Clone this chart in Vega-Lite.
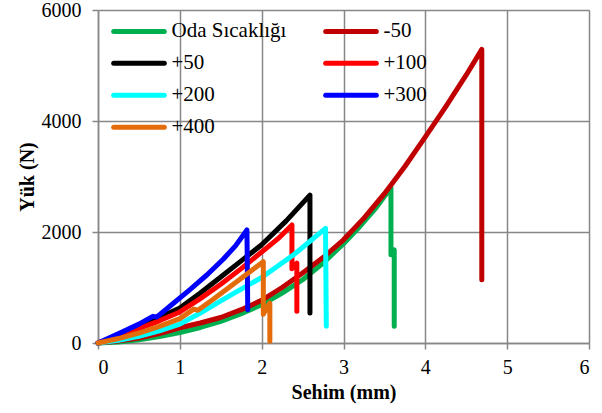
{
  "$schema": "https://vega.github.io/schema/vega-lite/v6.json",
  "width": 491,
  "height": 333,
  "autosize": {"type": "none"},
  "padding": {"left": 98, "top": 10, "right": 13, "bottom": 70},
  "background": "white",
  "config": {
    "view": {"stroke": null},
    "font": "Liberation Serif",
    "axis": {
      "labelFont": "Liberation Serif",
      "titleFont": "Liberation Serif",
      "labelFontSize": 20,
      "titleFontSize": 20,
      "titleFontWeight": "bold",
      "labelColor": "black",
      "titleColor": "black",
      "gridColor": "#878787",
      "gridWidth": 1.5,
      "gridOpacity": 1,
      "domainColor": "#878787",
      "domainWidth": 1.5,
      "tickColor": "#878787",
      "tickWidth": 1.5,
      "tickSize": 6
    }
  },
  "data": {
    "values": [
      {"s": "Oda Sıcaklığı", "i": 0, "x": 0, "y": 0},
      {"s": "Oda Sıcaklığı", "i": 1, "x": 0.25, "y": 20},
      {"s": "Oda Sıcaklığı", "i": 2, "x": 0.5, "y": 60},
      {"s": "Oda Sıcaklığı", "i": 3, "x": 0.75, "y": 115},
      {"s": "Oda Sıcaklığı", "i": 4, "x": 1, "y": 190},
      {"s": "Oda Sıcaklığı", "i": 5, "x": 1.25, "y": 280},
      {"s": "Oda Sıcaklığı", "i": 6, "x": 1.5, "y": 390},
      {"s": "Oda Sıcaklığı", "i": 7, "x": 1.75, "y": 530},
      {"s": "Oda Sıcaklığı", "i": 8, "x": 2, "y": 690},
      {"s": "Oda Sıcaklığı", "i": 9, "x": 2.25, "y": 900},
      {"s": "Oda Sıcaklığı", "i": 10, "x": 2.5, "y": 1140},
      {"s": "Oda Sıcaklığı", "i": 11, "x": 2.75, "y": 1440},
      {"s": "Oda Sıcaklığı", "i": 12, "x": 3, "y": 1790},
      {"s": "Oda Sıcaklığı", "i": 13, "x": 3.2, "y": 2100},
      {"s": "Oda Sıcaklığı", "i": 14, "x": 3.4, "y": 2440},
      {"s": "Oda Sıcaklığı", "i": 15, "x": 3.58, "y": 2800},
      {"s": "Oda Sıcaklığı", "i": 16, "x": 3.58, "y": 1590},
      {"s": "Oda Sıcaklığı", "i": 17, "x": 3.62, "y": 1680},
      {"s": "Oda Sıcaklığı", "i": 18, "x": 3.62, "y": 300},
      {"s": "-50", "i": 0, "x": 0, "y": 0},
      {"s": "-50", "i": 1, "x": 0.25, "y": 35},
      {"s": "-50", "i": 2, "x": 0.5, "y": 90},
      {"s": "-50", "i": 3, "x": 0.75, "y": 170},
      {"s": "-50", "i": 4, "x": 1, "y": 275},
      {"s": "-50", "i": 5, "x": 1.25, "y": 360},
      {"s": "-50", "i": 6, "x": 1.5, "y": 460},
      {"s": "-50", "i": 7, "x": 1.75, "y": 600},
      {"s": "-50", "i": 8, "x": 2, "y": 770},
      {"s": "-50", "i": 9, "x": 2.25, "y": 1000},
      {"s": "-50", "i": 10, "x": 2.5, "y": 1260},
      {"s": "-50", "i": 11, "x": 2.75, "y": 1540},
      {"s": "-50", "i": 12, "x": 3, "y": 1860},
      {"s": "-50", "i": 13, "x": 3.25, "y": 2250},
      {"s": "-50", "i": 14, "x": 3.5, "y": 2690},
      {"s": "-50", "i": 15, "x": 3.75, "y": 3180},
      {"s": "-50", "i": 16, "x": 4, "y": 3713},
      {"s": "-50", "i": 17, "x": 4.25, "y": 4260},
      {"s": "-50", "i": 18, "x": 4.5, "y": 4830},
      {"s": "-50", "i": 19, "x": 4.69, "y": 5290},
      {"s": "-50", "i": 20, "x": 4.69, "y": 1140},
      {"s": "+50", "i": 0, "x": 0, "y": 0},
      {"s": "+50", "i": 1, "x": 0.25, "y": 140},
      {"s": "+50", "i": 2, "x": 0.5, "y": 300},
      {"s": "+50", "i": 3, "x": 0.75, "y": 460},
      {"s": "+50", "i": 4, "x": 1, "y": 630},
      {"s": "+50", "i": 5, "x": 1.25, "y": 900},
      {"s": "+50", "i": 6, "x": 1.5, "y": 1190},
      {"s": "+50", "i": 7, "x": 1.75, "y": 1480},
      {"s": "+50", "i": 8, "x": 2, "y": 1770},
      {"s": "+50", "i": 9, "x": 2.3, "y": 2200},
      {"s": "+50", "i": 10, "x": 2.59, "y": 2665},
      {"s": "+50", "i": 11, "x": 2.59, "y": 540},
      {"s": "+100", "i": 0, "x": 0, "y": 0},
      {"s": "+100", "i": 1, "x": 0.25, "y": 120},
      {"s": "+100", "i": 2, "x": 0.5, "y": 260},
      {"s": "+100", "i": 3, "x": 0.75, "y": 400},
      {"s": "+100", "i": 4, "x": 1, "y": 560},
      {"s": "+100", "i": 5, "x": 1.25, "y": 800},
      {"s": "+100", "i": 6, "x": 1.5, "y": 1060},
      {"s": "+100", "i": 7, "x": 1.75, "y": 1340},
      {"s": "+100", "i": 8, "x": 2, "y": 1640},
      {"s": "+100", "i": 9, "x": 2.2, "y": 1880},
      {"s": "+100", "i": 10, "x": 2.37, "y": 2126},
      {"s": "+100", "i": 11, "x": 2.37, "y": 1340},
      {"s": "+100", "i": 12, "x": 2.43, "y": 1440},
      {"s": "+100", "i": 13, "x": 2.43, "y": 570},
      {"s": "+200", "i": 0, "x": 0, "y": 0},
      {"s": "+200", "i": 1, "x": 0.25, "y": 50},
      {"s": "+200", "i": 2, "x": 0.5, "y": 120},
      {"s": "+200", "i": 3, "x": 0.75, "y": 220},
      {"s": "+200", "i": 4, "x": 1, "y": 340},
      {"s": "+200", "i": 5, "x": 1.25, "y": 540},
      {"s": "+200", "i": 6, "x": 1.5, "y": 760},
      {"s": "+200", "i": 7, "x": 1.75, "y": 970},
      {"s": "+200", "i": 8, "x": 2, "y": 1180},
      {"s": "+200", "i": 9, "x": 2.4, "y": 1600},
      {"s": "+200", "i": 10, "x": 2.78, "y": 2066},
      {"s": "+200", "i": 11, "x": 2.79, "y": 300},
      {"s": "+300", "i": 0, "x": 0, "y": 0},
      {"s": "+300", "i": 1, "x": 0.3, "y": 200},
      {"s": "+300", "i": 2, "x": 0.5, "y": 340},
      {"s": "+300", "i": 3, "x": 0.67, "y": 480},
      {"s": "+300", "i": 4, "x": 0.72, "y": 470},
      {"s": "+300", "i": 5, "x": 0.9, "y": 690},
      {"s": "+300", "i": 6, "x": 1.12, "y": 958},
      {"s": "+300", "i": 7, "x": 1.33, "y": 1225},
      {"s": "+300", "i": 8, "x": 1.53, "y": 1510},
      {"s": "+300", "i": 9, "x": 1.68, "y": 1750},
      {"s": "+300", "i": 10, "x": 1.82, "y": 2036},
      {"s": "+300", "i": 11, "x": 1.83, "y": 600},
      {"s": "+400", "i": 0, "x": 0, "y": 0},
      {"s": "+400", "i": 1, "x": 0.25, "y": 80},
      {"s": "+400", "i": 2, "x": 0.5, "y": 180},
      {"s": "+400", "i": 3, "x": 0.75, "y": 300},
      {"s": "+400", "i": 4, "x": 1, "y": 440},
      {"s": "+400", "i": 5, "x": 1.17, "y": 610},
      {"s": "+400", "i": 6, "x": 1.22, "y": 590},
      {"s": "+400", "i": 7, "x": 1.4, "y": 780},
      {"s": "+400", "i": 8, "x": 1.6, "y": 1000},
      {"s": "+400", "i": 9, "x": 1.8, "y": 1220},
      {"s": "+400", "i": 10, "x": 2.02, "y": 1466},
      {"s": "+400", "i": 11, "x": 2.02, "y": 520},
      {"s": "+400", "i": 12, "x": 2.1, "y": 720},
      {"s": "+400", "i": 13, "x": 2.1, "y": 30}
    ]
  },
  "mark": {"type": "line", "strokeWidth": 5, "strokeCap": "round", "strokeJoin": "round"},
  "encoding": {
    "x": {
      "field": "x",
      "type": "quantitative",
      "scale": {"domain": [0, 6], "nice": false, "zero": false},
      "axis": {"title": "Sehim (mm)", "values": [0, 1, 2, 3, 4, 5, 6], "format": "d", "labelPadding": 8, "titlePadding": 5}
    },
    "y": {
      "field": "y",
      "type": "quantitative",
      "scale": {"domain": [0, 6000], "nice": false},
      "axis": {"title": "Yük (N)", "values": [0, 2000, 4000, 6000], "format": "d", "labelPadding": 11, "titlePadding": 4}
    },
    "color": {
      "field": "s",
      "type": "nominal",
      "sort": ["Oda Sıcaklığı", "-50", "+50", "+100", "+200", "+300", "+400"],
      "scale": {
        "domain": ["Oda Sıcaklığı", "-50", "+50", "+100", "+200", "+300", "+400"],
        "range": ["#00B050", "#C00000", "#000000", "#FF0000", "#00FFFF", "#0000FF", "#E46C0A"]
      },
      "legend": {
        "title": null,
        "orient": "none",
        "direction": "horizontal",
        "legendX": 30.5,
        "legendY": 10.7,
        "columns": 2,
        "padding": 0,
        "symbolType": "M-4.6,0H4.6",
        "symbolSize": 121,
        "symbolStrokeWidth": 5,
        "labelFont": "Liberation Serif",
        "labelFontSize": 21,
        "labelColor": "black",
        "labelOffset": 22,
        "labelLimit": 300,
        "columnPadding": 29,
        "rowPadding": 10,
        "encode": {"symbols": {"update": {"strokeCap": {"value": "round"}}}}
      }
    },
    "order": {"field": "i", "type": "quantitative"}
  }
}
